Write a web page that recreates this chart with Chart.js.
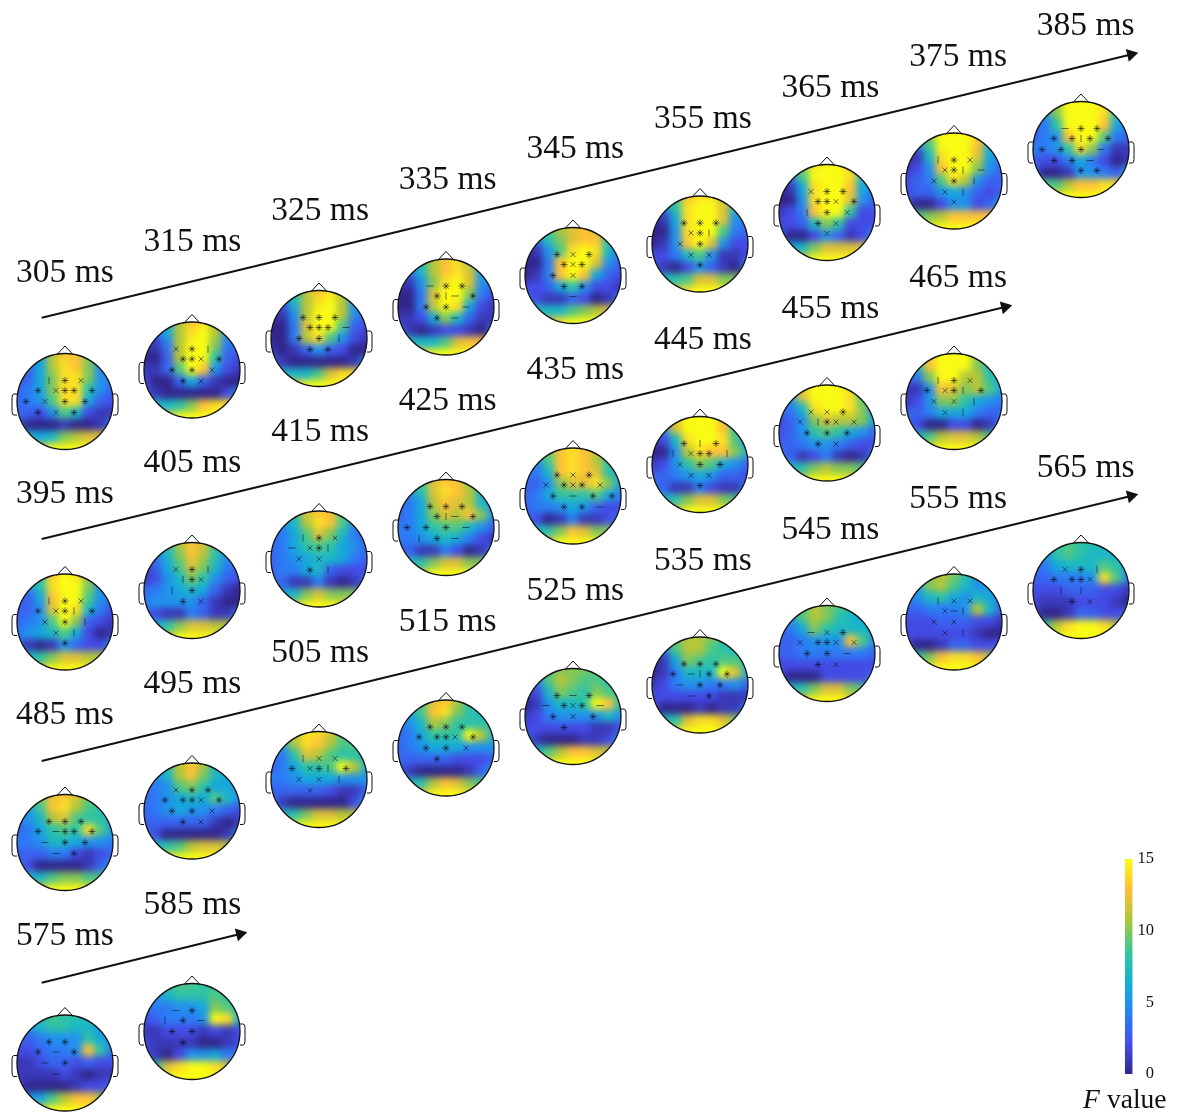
<!DOCTYPE html>
<html><head><meta charset="utf-8">
<style>html,body{margin:0;padding:0;background:#fff}canvas{display:block}</style>
<script src="https://cdn.jsdelivr.net/npm/chart.js@4"></script>
</head><body><canvas id="c" width="1177" height="1115"></canvas>
<script>
// F value on a 9x9 scalp grid (rows top to bottom), one array per time point
const f305=[2,3,6,11,13,13,10,5,4, 2,3,6,11,14,13,10,5,4, 2,3,6,10,14,14,10,5,4, 3,4,6,10,14,14,8,5,3, 3,4,5,9,14,14,6,3,2, 3,3,2,5,9,7,2,1,1, 3,0,0,0,1,0,0,1,4, 6,7,6,7,10,11,12,12,11, 8,9,12,15,15,15,15,13,10];
const f315=[3,4,7,11,13,14,11,6,4, 2,3,6,11,14,15,11,5,4, 1,1,4,11,15,15,10,4,3, 0,0,3,11,15,15,8,3,2, 1,1,3,9,15,13,5,2,1, 2,0,0,3,6,3,1,0,0, 3,1,0,0,0,0,0,2,5, 7,7,7,8,10,13,14,14,12, 9,10,13,15,15,15,15,13,11];
const f325=[3,4,8,11,13,14,11,6,5, 2,3,7,11,14,15,11,5,4, 1,1,5,11,15,15,11,5,3, 0,0,4,12,15,15,9,3,2, 0,0,4,11,14,9,5,2,1, 1,0,1,3,5,3,2,0,0, 3,1,0,0,0,0,0,1,5, 7,7,7,7,9,12,14,14,12, 9,10,13,15,15,15,15,13,12];
const f335=[4,5,8,11,13,14,10,6,5, 3,4,7,11,13,14,12,6,5, 1,1,5,10,14,15,12,5,4, 0,0,4,12,15,15,10,4,2, 0,0,4,11,15,14,6,2,1, 1,1,2,6,10,7,3,1,1, 3,1,0,1,2,2,1,0,3, 7,7,7,7,9,12,13,13,12, 9,10,13,15,15,15,15,13,12];
const f345=[5,6,9,11,12,13,11,7,6, 3,4,8,10,12,13,13,8,5, 0,1,5,9,14,15,14,7,4, 0,0,4,13,15,15,12,5,3, 0,1,4,13,15,13,6,3,2, 2,2,3,6,8,5,2,2,1, 4,2,1,1,3,2,0,1,4, 7,7,7,7,9,10,11,12,10, 9,9,12,14,15,15,15,13,11];
const f355=[5,6,9,13,14,14,11,7,6, 3,4,8,14,15,15,12,7,5, 0,1,6,14,15,15,12,5,4, 0,0,5,14,15,15,9,4,3, 0,1,5,13,15,12,5,2,2, 2,2,4,7,9,5,1,1,2, 3,1,0,2,5,3,1,0,5, 7,7,8,9,12,12,10,10,10, 9,9,12,14,15,15,15,13,11];
const f365=[5,6,10,14,15,15,13,7,6, 3,4,9,15,15,15,14,7,5, 0,1,6,14,15,15,13,6,4, 0,0,5,14,15,15,12,5,3, 1,2,4,13,15,15,8,2,2, 2,2,3,7,10,8,2,2,2, 3,0,0,2,5,3,1,2,5, 7,6,7,10,12,12,12,12,10, 9,10,13,15,15,15,15,13,11];
const f375=[6,7,11,15,15,15,14,8,6, 3,4,9,15,15,15,13,7,5, 0,1,7,14,15,15,12,6,4, 1,2,5,13,15,15,10,5,3, 2,3,4,9,14,11,5,3,3, 2,3,3,5,6,5,3,2,3, 3,0,0,2,5,5,2,3,6, 8,9,10,11,13,13,13,13,11, 11,12,15,15,15,15,15,14,12];
const f385=[6,7,11,15,15,15,14,8,6, 4,5,10,15,15,15,14,8,5, 3,4,8,15,15,15,13,6,4, 3,4,5,13,15,15,9,4,3, 4,4,5,8,14,10,4,1,1, 3,2,2,4,6,4,2,0,1, 4,0,0,1,5,5,4,3,6, 8,9,9,11,13,13,14,14,11, 10,11,14,15,15,15,15,14,12];
const f395=[5,6,9,13,15,14,10,6,5, 4,5,8,14,15,15,10,5,4, 3,3,6,13,15,15,9,5,4, 3,3,5,12,15,14,7,4,2, 3,4,5,9,15,10,3,2,1, 4,5,6,7,9,6,2,0,1, 3,1,0,1,5,3,2,2,5, 7,7,8,10,12,12,11,11,9, 9,9,12,15,15,15,15,12,10];
const f405=[5,5,8,11,13,12,9,5,4, 4,4,7,10,13,11,8,5,4, 1,3,6,9,12,10,7,4,3, 1,2,5,7,10,8,5,3,2, 3,4,5,6,7,6,3,1,0, 4,5,5,5,5,3,1,0,0, 3,2,1,1,4,3,1,1,4, 6,6,8,10,12,12,11,11,9, 8,8,12,15,15,15,15,12,9];
const f415=[5,6,8,12,13,13,9,6,5, 4,5,7,11,14,13,9,5,4, 3,4,6,9,12,10,7,4,3, 3,4,6,8,9,8,6,5,3, 3,4,5,6,7,7,6,4,3, 3,4,4,6,7,3,2,2,2, 4,3,1,1,4,1,0,1,4, 6,6,7,10,12,10,10,10,8, 8,8,12,15,15,15,14,11,9];
const f425=[6,6,9,12,13,13,10,7,6, 5,5,8,12,14,13,11,7,5, 3,4,6,11,13,12,11,7,5, 3,4,6,10,12,11,13,10,5, 4,4,6,8,9,9,7,5,3, 4,4,5,6,7,6,4,2,1, 3,3,1,1,4,2,0,1,4, 6,7,8,10,12,12,10,10,8, 8,8,12,15,15,15,15,12,9];
const f435=[6,7,10,13,14,13,12,8,6, 5,5,9,13,14,13,11,8,6, 4,4,7,13,14,13,12,8,6, 3,3,5,10,12,12,14,10,6, 3,4,6,8,8,8,9,6,4, 3,4,4,5,6,5,3,2,2, 3,2,0,1,4,1,1,2,4, 6,7,8,10,13,12,10,10,8, 9,9,13,15,15,15,15,12,10];
const f445=[6,8,13,15,15,15,12,7,6, 4,5,12,15,15,15,13,8,5, 1,2,7,14,15,15,14,9,5, 0,0,5,11,14,13,13,10,7, 1,2,5,8,10,9,6,5,3, 3,3,4,5,6,5,3,3,2, 4,3,1,1,4,2,1,1,4, 7,7,8,10,12,12,10,9,8, 8,8,12,15,15,15,15,11,9];
const f455=[6,8,13,15,15,15,13,7,6, 4,6,12,15,15,15,14,9,5, 3,4,7,14,15,15,14,10,5, 2,3,5,10,12,11,11,10,6, 2,3,5,8,9,8,6,5,3, 3,3,4,5,5,4,3,2,2, 4,3,1,2,4,1,0,1,4, 7,7,8,10,11,10,10,9,7, 8,8,12,15,15,15,14,10,8];
const f465=[6,9,13,15,15,15,11,7,6, 5,8,13,15,15,15,10,7,6, 3,4,10,15,15,11,11,8,6, 1,1,5,13,12,10,11,9,6, 1,2,5,10,10,8,6,5,4, 3,3,4,6,6,6,4,3,3, 4,2,0,0,2,2,0,1,4, 7,7,9,11,12,12,11,9,7, 9,10,14,15,15,15,15,12,9];
const f485=[6,7,10,12,13,12,10,8,7, 5,6,9,13,14,11,9,8,6, 4,5,7,11,12,9,8,8,6, 3,4,6,8,9,8,14,9,6, 4,4,5,7,7,6,5,5,4, 3,3,3,4,4,2,1,2,3, 4,2,0,0,0,0,1,3,5, 7,7,7,9,10,10,9,9,7, 8,9,13,15,15,15,14,11,8];
const f495=[5,6,8,11,13,11,8,6,5, 4,5,7,11,13,10,7,6,5, 3,4,5,9,10,8,6,6,5, 3,4,5,6,7,6,9,7,5, 3,4,5,6,5,5,4,3,2, 3,3,3,3,3,3,1,0,1, 4,2,0,0,0,0,0,1,5, 7,7,8,9,11,12,12,11,8, 9,10,14,15,15,15,15,13,10];
const f505=[6,8,11,14,14,12,9,8,7, 5,7,11,14,13,11,9,9,7, 3,4,8,12,11,9,8,8,7, 3,4,6,8,8,9,15,11,7, 4,4,5,6,6,6,5,5,5, 3,3,3,3,3,2,1,1,3, 4,1,0,0,0,0,0,2,6, 7,7,8,10,12,12,11,11,9, 9,10,15,15,15,15,15,13,10];
const f515=[6,7,9,12,13,11,8,7,6, 5,6,9,13,14,10,8,7,7, 3,5,7,11,10,8,8,8,8, 3,4,6,8,8,8,15,11,7, 3,4,5,6,6,6,5,5,5, 3,3,3,3,3,2,2,2,3, 4,1,0,0,0,0,1,3,6, 7,7,8,11,13,12,10,9,8, 8,9,13,15,15,15,14,11,8];
const f525=[5,6,9,10,10,10,9,7,6, 3,5,9,11,10,9,9,8,7, 1,2,7,10,9,8,10,9,8, 0,1,5,7,7,8,15,13,8, 1,2,4,5,5,5,5,7,5, 2,2,2,2,2,2,1,1,2, 4,1,0,0,0,1,1,2,5, 7,7,9,11,13,13,12,11,9, 9,10,14,15,15,15,15,12,9];
const f535=[5,6,9,11,11,10,8,6,5, 3,4,9,11,11,9,8,7,6, 0,1,6,10,9,8,9,9,7, 0,1,4,7,7,7,15,12,7, 1,2,4,5,5,4,4,5,3, 2,2,2,2,2,2,1,1,1, 3,0,0,0,1,0,1,1,4, 7,7,8,12,14,14,12,10,8, 9,10,14,15,15,15,15,13,9];
const f545=[5,6,9,11,10,9,8,6,5, 4,5,9,11,10,8,7,6,5, 3,4,6,10,8,7,7,7,6, 3,3,4,5,5,5,13,9,5, 3,3,4,4,4,4,4,4,3, 2,2,2,2,2,2,2,2,2, 2,0,0,0,2,2,2,2,4, 6,7,8,10,12,12,10,9,6, 8,9,13,15,15,15,14,11,8];
const f555=[5,7,10,11,10,8,6,5,4, 4,6,10,11,9,7,5,5,4, 3,5,7,8,6,5,7,6,4, 3,3,4,4,4,5,11,7,3, 2,2,2,3,3,3,2,2,1, 2,2,2,2,2,2,1,0,0, 2,0,0,1,3,3,2,2,3, 6,8,10,13,14,14,13,11,7, 9,11,15,15,15,15,15,13,9];
const f565=[5,6,8,9,8,8,7,5,4, 4,5,8,9,8,7,7,6,5, 3,4,6,7,7,7,9,8,6, 3,3,4,4,4,5,14,9,4, 2,2,2,3,3,3,2,2,1, 2,1,1,1,2,2,2,1,0, 2,0,0,1,3,3,2,2,3, 6,8,11,14,15,15,14,11,7, 9,11,15,15,15,15,15,13,9];
const f575=[5,6,8,9,8,8,7,5,4, 4,5,7,8,8,7,7,5,5, 3,3,4,5,5,5,8,6,5, 2,2,3,4,4,5,13,8,4, 1,1,2,3,3,2,3,2,2, 1,1,1,1,2,1,0,1,1, 2,0,0,0,0,1,2,2,3, 5,5,6,9,11,13,13,11,7, 8,8,12,15,15,15,15,12,8];
const f585=[5,6,9,9,9,8,8,6,5, 4,5,7,8,8,8,9,8,6, 3,4,4,5,5,6,10,9,7, 2,3,4,4,4,5,15,14,7, 1,1,2,2,2,1,2,1,2, 2,1,1,1,1,0,0,1,2, 2,1,0,2,5,5,6,4,4, 6,8,12,14,15,15,14,12,7, 9,11,15,15,15,15,15,12,9];

const timesRow1=[305,315,325,335,345,355,365,375,385];
const timesRow2=[395,405,415,425,435,445,455,465];
const timesRow3=[485,495,505,515,525,535,545,555,565];
const timesRow4=[575,585];
const fields={305:f305,315:f315,325:f325,335:f335,345:f345,355:f355,365:f365,375:f375,385:f385,395:f395,405:f405,415:f415,425:f425,435:f435,445:f445,455:f455,465:f465,485:f485,495:f495,505:f505,515:f515,525:f525,535:f535,545:f545,555:f555,565:f565,575:f575,585:f585};

// significance marks per electrode, rows A..E of the electrode layout
const marks={
305:"|*x *x*** *x**. *x*. ...",315:"x*| .**x* .**x. .*x. ...",325:"*** .***- .**|. .**. ...",
335:"-** .*|-* .**-. .*-. ...",345:"*x* .*x*. .*x.. .**. .-.",355:"*** .x*|. .x*.. .xx. .*.",
365:"x** .**x* .|*x. .*x. .x.",375:"|*x .x*|- .x*|. .x|. .x.",385:"-** **|** ***-. **-. .**",
395:"|*x *x*|* .x*|. .x|. .*.",405:"x*| .|*x. .|*.. .*x. ...",415:"|*x -x*|. .xx.. .*|. ...",
425:"*** .*|-* ***-. |*-. ...",435:"*x* x*x*x .*-** .**- ...",445:"*|* |x**| .x**. .xx. .*.",
455:"xx* x|*xx .***. .*x. ...",465:"|*x *x*|* .xx|. .x|. ...",
485:"*** *-*** .-**. .-*. ...",495:"x** ***x* .**x. .*x. ...",505:"|xx *x*|* .xx|. .x.. ...",
515:"*** ***x* .**x. .*.. ...",525:"*-* -*x*- .*x*. .*.. ...",535:"*** *-|** .-**. .-*. ...",
545:"-x* x**xx .**-. .*x. ...",555:"|xx .x-|. .xx.. .x|. ...",565:"x*| ***x. .||.. .*x. ...",
575:"**. *-.*. .-*.. .-.. ...",585:"-*. |*.-. .**.. .*.. ..."};

const electrodeRowX=[[-16,0,16],[-27,-9,0,9,27],[-39,-20,0,20,39],[-27,-9,9,27],[-16,0,16]];
const electrodeRowY=[-21,-11,0,11,21];

const colorbarTicks=[0,5,10,15];
const parula=[[50,38,140],[68,78,235],[40,130,245],[18,177,214],[55,200,151],[171,199,57],[254,190,56],[249,251,21]];

function colorOf(v){
  const t=Math.max(0,Math.min(1,v/15))*(parula.length-1), i=Math.min(parula.length-2,Math.floor(t)), f=t-i;
  const a=parula[i],b=parula[i+1];
  return `rgb(${a.map((c,k)=>Math.round(c+(b[k]-c)*f)).join(',')})`;
}

const R=48, STEP=12;
const heads=[];
[[timesRow1,65,401.5],[timesRow2,65,622],[timesRow3,65,842.5],[timesRow4,65,1063]].forEach(([ts,x0,y0])=>{
  ts.forEach((t,i)=>heads.push({t,cx:x0+127*i,cy:y0-31.5*i}));
});
const labels=[];
[[timesRow1,282],[timesRow2,503],[timesRow3,724],[timesRow4,945]].forEach(([ts,y0])=>{
  ts.forEach((t,i)=>labels.push({text:t+' ms',x:16+127.6*i,y:y0-30.9*i}));
});

const datasets=[];
const arrows=[[41.7,317.7,1131,54.5],[41.7,539,1005,307],[41.7,761,1131,496],[41.7,982.7,240,934]];
arrows.forEach(a=>{
  const ang=Math.atan2(a[3]-a[1],a[2]-a[0])*180/Math.PI+90;
  datasets.push({type:'line',label:'arrow',order:0,data:[{x:a[0],y:a[1]},{x:a[2],y:a[3]}],borderColor:'#111',borderWidth:2,
    pointStyle:'triangle',pointRadius:[0,7.5],pointRotation:ang,backgroundColor:'#111',pointBackgroundColor:'#111',pointBorderColor:'#111',pointBorderWidth:0,tension:0});
});
heads.forEach(h=>{
  const vals=fields[h.t], cells=[];
  for(let r=0;r<9;r++)for(let c=0;c<9;c++)cells.push({x:h.cx+(c-4)*STEP,y:h.cy+(r-4)*STEP,v:vals[r*9+c]});
  datasets.push({type:'scatter',label:h.t+' ms field',order:2,head:h,data:cells,pointStyle:'rect',pointRadius:9.4,pointBorderWidth:0,
    backgroundColor:cells.map(p=>colorOf(p.v)),pointBackgroundColor:cells.map(p=>colorOf(p.v))});
  const rows=marks[h.t].split(' '), pts=[], styles=[], rots=[];
  rows.forEach((s,r)=>[...s].forEach((ch,k)=>{
    if(ch==='.')return;
    pts.push({x:h.cx+electrodeRowX[r][k],y:h.cy+electrodeRowY[r]});
    styles.push(ch==='*'?'star':ch==='x'?'crossRot':'line');
    rots.push(ch==='|'?90:0);
  }));
  datasets.push({type:'scatter',label:h.t+' ms marks',order:1,data:pts,pointStyle:styles,pointRotation:rots,pointRadius:3.6,
    pointBorderWidth:0.7,pointBorderColor:'rgba(10,10,30,0.8)',pointBackgroundColor:'rgba(0,0,0,0)'});
});

const canvas=document.getElementById('c');
const grad=canvas.getContext('2d').createLinearGradient(0,1074,0,859);
parula.forEach((c,i)=>grad.addColorStop(i/(parula.length-1),`rgb(${c.join(',')})`));
datasets.push({type:'line',label:'colorbar',order:0,data:[{x:1128.7,y:1074},{x:1128.7,y:859}],borderColor:grad,borderWidth:7.5,pointRadius:0});

const headPlugin={id:'head',
  beforeDraw(chart){const c=chart.ctx;c.save();c.fillStyle='#fff';c.fillRect(0,0,chart.width,chart.height);c.restore();},
  afterDatasetDraw(chart,args){
    const ds=chart.data.datasets[args.index];
    if(!ds.head)return;
    const c=chart.ctx, px=chart.scales.x.getPixelForValue(ds.head.cx), py=chart.scales.y.getPixelForValue(ds.head.cy);
    const S=55;
    c.save();c.beginPath();c.arc(px,py,R,0,Math.PI*2);c.clip();
    c.filter='blur(3.6px)';
    c.drawImage(c.canvas,px-S,py-S,2*S,2*S,px-S,py-S,2*S,2*S);
    c.restore();
    c.save();c.beginPath();c.rect(px-S-2,py-S-2,2*S+4,2*S+4);c.arc(px,py,R,0,Math.PI*2,true);c.clip('evenodd');
    c.fillStyle='#fff';c.fillRect(px-S-2,py-S-2,2*S+4,2*S+4);c.restore();
    c.save();c.strokeStyle='#111';c.lineWidth=1.3;
    c.beginPath();c.arc(px,py,R,0,Math.PI*2);c.stroke();
    c.lineWidth=1;
    c.beginPath();c.moveTo(px-8.5,py-46.5);c.lineTo(px,py-55.5);c.lineTo(px+8.5,py-46.5);c.stroke();
    [-1,1].forEach(s=>{
      c.beginPath();c.moveTo(px+s*48,py-7.5);c.lineTo(px+s*51,py-7.5);
      c.quadraticCurveTo(px+s*53,py-7.5,px+s*53,py-4);
      c.lineTo(px+s*53,py+10);c.quadraticCurveTo(px+s*53,py+13.5,px+s*51,py+13.5);c.lineTo(px+s*48,py+13.5);c.stroke();
    });
    c.restore();
  },
  afterDatasetsDraw(chart){
    const c=chart.ctx,X=chart.scales.x,Y=chart.scales.y;
    c.save();c.fillStyle='#111';c.textBaseline='alphabetic';c.textAlign='left';
    c.font='33.5px "Liberation Serif"';
    labels.forEach(l=>c.fillText(l.text,X.getPixelForValue(l.x),Y.getPixelForValue(l.y)));
    c.font='16.5px "Liberation Serif"';c.textAlign='right';c.textBaseline='middle';
    colorbarTicks.forEach(v=>c.fillText(String(v),X.getPixelForValue(1154),Y.getPixelForValue(1074-v/15*215)));
    c.textBaseline='alphabetic';c.textAlign='left';
    c.font='italic 27.5px "Liberation Serif"';c.fillText('F',X.getPixelForValue(1083),Y.getPixelForValue(1108));
    c.font='27.5px "Liberation Serif"';c.fillText('value',X.getPixelForValue(1107),Y.getPixelForValue(1108));
    c.restore();
  }
};

new Chart(canvas,{type:'scatter',data:{datasets},plugins:[headPlugin],options:{
  responsive:false,animation:false,events:[],
  layout:{padding:0,autoPadding:false},
  plugins:{legend:{display:false},tooltip:{enabled:false},title:{display:false}},
  elements:{line:{borderCapStyle:'butt'}},
  scales:{x:{type:'linear',min:0,max:1177,display:false},y:{type:'linear',min:0,max:1115,reverse:true,display:false}}
}});
</script></body></html>
